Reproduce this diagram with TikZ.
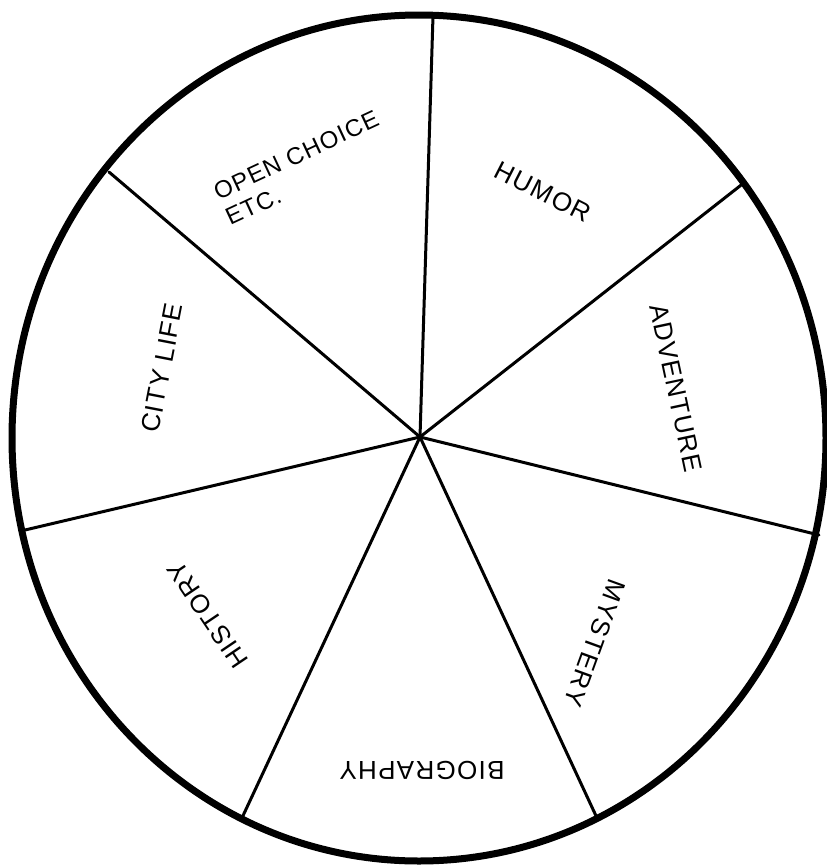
\documentclass[tikz,border=0pt]{standalone}
\usepackage{fontspec}
\setmainfont{Liberation Sans}[LetterSpace=5]
\begin{document}
\begin{tikzpicture}[x=1pt,y=-1pt,
  spoke/.style={line width=3pt, line cap=round},
  rim/.style={line width=7pt},
  lbl/.style={font=\fontsize{26}{29}\selectfont, inner sep=0pt}]
\useasboundingbox (0,0) rectangle (827,865);
\coordinate (ctr) at (419,438);
\coordinate (hub) at (420,437);
\coordinate (pT) at (433,16);
\coordinate (pUR) at (745,182);
\coordinate (pR) at (819,535);
\coordinate (pLR) at (597,818);
\coordinate (pLL) at (241,820);
\coordinate (pL) at (25,530);
\coordinate (pUL) at (109,172);
\draw[rim] (ctr) ellipse [x radius=407pt, y radius=423pt];
\foreach \p in {pT,pUR,pR,pLR,pLL,pL,pUL} \draw[spoke] (hub) -- (\p);
\node[lbl, rotate=25, align=left, font=\fontsize{24}{28}\selectfont] (open) at (302,168) {OPEN CHOICE\\ETC.};
\node[lbl, rotate=-27] (humor) at (543,192) {HUMOR};
\node[lbl, rotate=-78] (adv) at (676,388) {ADVENTURE};
\node[lbl, rotate=-110] (myst) at (595,643) {MYSTERY};
\node[lbl, rotate=180] (bio) at (422,770) {BIOGRAPHY};
\node[lbl, rotate=124] (hist) at (208,615) {HISTORY};
\node[lbl, rotate=79] (city) at (162,368) {CITY LIFE};
\end{tikzpicture}
\end{document}
